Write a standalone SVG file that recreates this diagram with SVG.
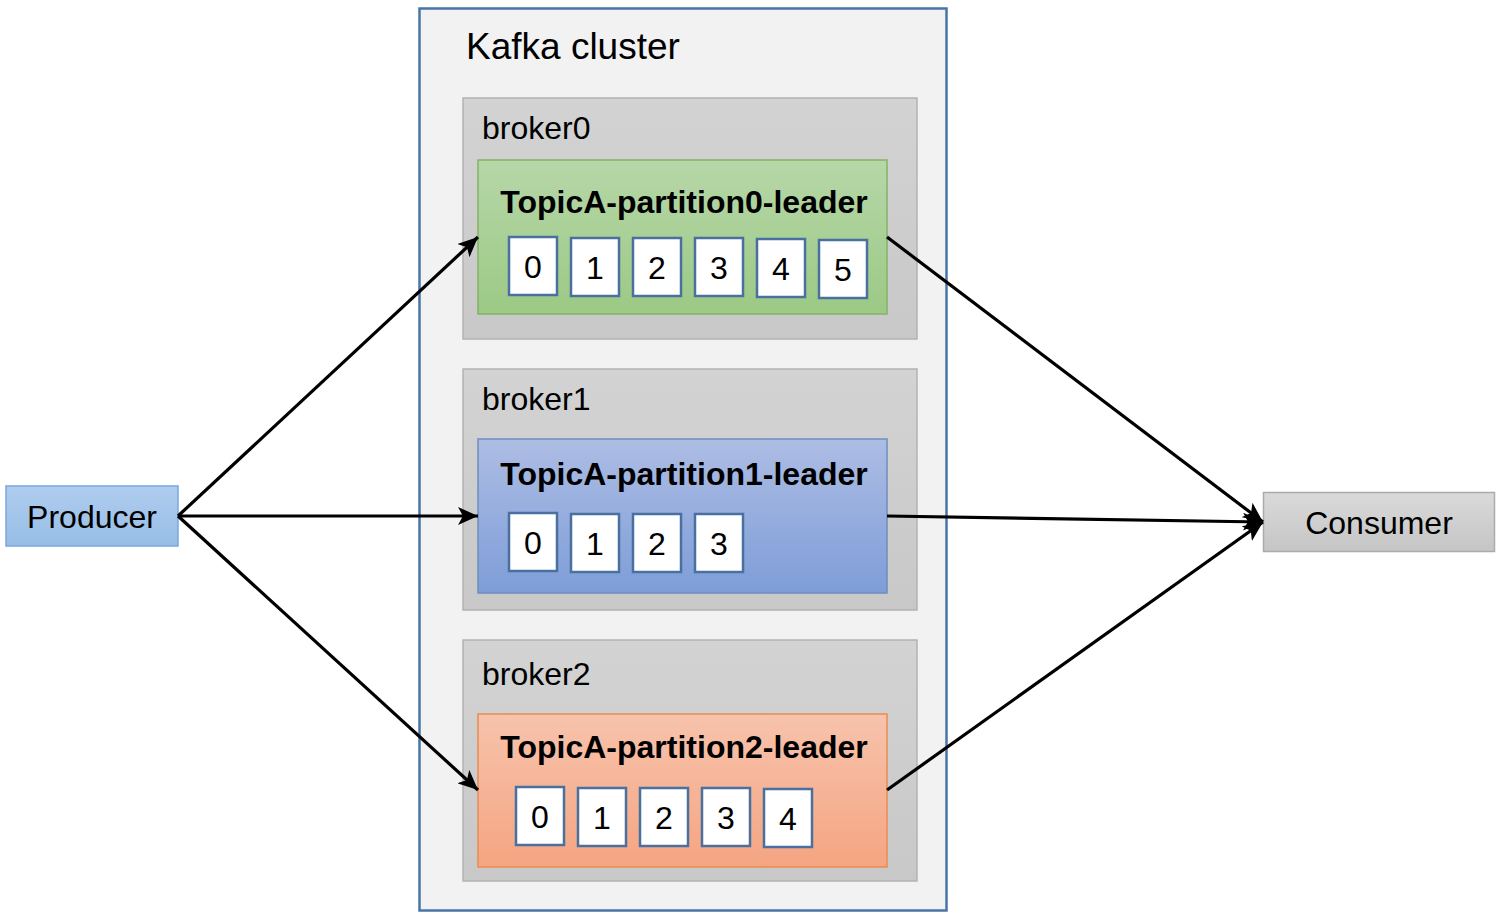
<svg xmlns="http://www.w3.org/2000/svg" width="1507" height="917" viewBox="0 0 1507 917">
<defs>
<style>
text{font-family:"Liberation Sans",Arial,sans-serif;fill:#000}
.big{font-size:37px}
.lbl{font-size:32px}
.ttl{font-size:32px;font-weight:bold}
.num{font-size:32px;text-anchor:middle}
.cell{fill:#fff;stroke:#4a70a0;stroke-width:2.5}
.broker{fill:url(#gBroker);stroke:#b3b3b3;stroke-width:1.5}
.conn{stroke:#000;stroke-width:3.2;fill:none;marker-end:url(#ah)}
</style>
<linearGradient id="gBroker" x1="0" y1="0" x2="0" y2="1"><stop offset="0" stop-color="#d3d3d3"/><stop offset="1" stop-color="#c8c8c8"/></linearGradient>
<linearGradient id="gGreen" x1="0" y1="0" x2="0" y2="1"><stop offset="0" stop-color="#b6d7a8"/><stop offset="1" stop-color="#9cc985"/></linearGradient>
<linearGradient id="gBlue" x1="0" y1="0" x2="0" y2="1"><stop offset="0" stop-color="#adbde4"/><stop offset="1" stop-color="#7e9dd8"/></linearGradient>
<linearGradient id="gOrange" x1="0" y1="0" x2="0" y2="1"><stop offset="0" stop-color="#f7c3ac"/><stop offset="1" stop-color="#f5a582"/></linearGradient>
<linearGradient id="gProd" x1="0" y1="0" x2="0" y2="1"><stop offset="0" stop-color="#afcdee"/><stop offset="1" stop-color="#97bde6"/></linearGradient>
<linearGradient id="gCons" x1="0" y1="0" x2="0" y2="1"><stop offset="0" stop-color="#dadada"/><stop offset="1" stop-color="#c5c5c5"/></linearGradient>
<marker id="ah" markerUnits="userSpaceOnUse" markerWidth="22" markerHeight="18" refX="20" refY="9" orient="auto"><path d="M0,0 L20,9 L0,18 L5,9 Z" fill="#000"/></marker>
</defs>

<g id="cluster">
<rect x="419.5" y="8.5" width="527" height="902" fill="#f2f2f2" stroke="#4a74a5" stroke-width="2.5"/>
<text class="big" x="466" y="59">Kafka cluster</text>
</g>

<g id="broker0">
<rect class="broker" x="463" y="98" width="454" height="241"/>
<text class="lbl" x="482" y="139">broker0</text>
</g>
<g id="broker1">
<rect class="broker" x="463" y="369" width="454" height="241"/>
<text class="lbl" x="482" y="410">broker1</text>
</g>
<g id="broker2">
<rect class="broker" x="463" y="640" width="454" height="241"/>
<text class="lbl" x="482" y="685">broker2</text>
</g>

<g id="partition0">
<rect x="478" y="160" width="409" height="154" fill="url(#gGreen)" stroke="#82b366" stroke-width="1.5"/>
<text class="ttl" x="684" y="213" text-anchor="middle">TopicA-partition0-leader</text>
<rect class="cell" x="509" y="237" width="48" height="58"/><text class="num" x="533" y="278">0</text>
<rect class="cell" x="571" y="238" width="48" height="58"/><text class="num" x="595" y="279">1</text>
<rect class="cell" x="633" y="238" width="48" height="58"/><text class="num" x="657" y="279">2</text>
<rect class="cell" x="695" y="238" width="48" height="58"/><text class="num" x="719" y="279">3</text>
<rect class="cell" x="757" y="239" width="48" height="58"/><text class="num" x="781" y="280">4</text>
<rect class="cell" x="819" y="240" width="48" height="58"/><text class="num" x="843" y="281">5</text>
</g>

<g id="partition1">
<rect x="478" y="439" width="409" height="154" fill="url(#gBlue)" stroke="#6c8ebf" stroke-width="1.5"/>
<text class="ttl" x="684" y="485" text-anchor="middle">TopicA-partition1-leader</text>
<rect class="cell" x="509" y="513" width="48" height="58"/><text class="num" x="533" y="554">0</text>
<rect class="cell" x="571" y="514" width="48" height="58"/><text class="num" x="595" y="555">1</text>
<rect class="cell" x="633" y="514" width="48" height="58"/><text class="num" x="657" y="555">2</text>
<rect class="cell" x="695" y="514" width="48" height="58"/><text class="num" x="719" y="555">3</text>
</g>

<g id="partition2">
<rect x="478" y="714" width="409" height="153" fill="url(#gOrange)" stroke="#ea8c50" stroke-width="1.5"/>
<text class="ttl" x="684" y="758" text-anchor="middle">TopicA-partition2-leader</text>
<rect class="cell" x="516" y="787" width="48" height="58"/><text class="num" x="540" y="828">0</text>
<rect class="cell" x="578" y="788" width="48" height="58"/><text class="num" x="602" y="829">1</text>
<rect class="cell" x="640" y="788" width="48" height="58"/><text class="num" x="664" y="829">2</text>
<rect class="cell" x="702" y="788" width="48" height="58"/><text class="num" x="726" y="829">3</text>
<rect class="cell" x="764" y="789" width="48" height="58"/><text class="num" x="788" y="830">4</text>
</g>

<g id="producer">
<rect x="6" y="486" width="172" height="60" fill="url(#gProd)" stroke="#7aa7df" stroke-width="1.5"/>
<text class="lbl" x="92" y="528" text-anchor="middle">Producer</text>
</g>

<g id="consumer">
<rect x="1263.5" y="492.5" width="231" height="59" fill="url(#gCons)" stroke="#ababab" stroke-width="1.5"/>
<text class="lbl" x="1379" y="534" text-anchor="middle">Consumer</text>
</g>

<g id="connectors">
<line class="conn" x1="178" y1="516" x2="478" y2="237"/>
<line class="conn" x1="178" y1="516" x2="478" y2="516"/>
<line class="conn" x1="178" y1="516" x2="478" y2="790"/>
<line class="conn" x1="887" y1="237" x2="1263" y2="522"/>
<line class="conn" x1="887" y1="516" x2="1263" y2="522"/>
<line class="conn" x1="887" y1="790" x2="1263" y2="522"/>
</g>
</svg>
